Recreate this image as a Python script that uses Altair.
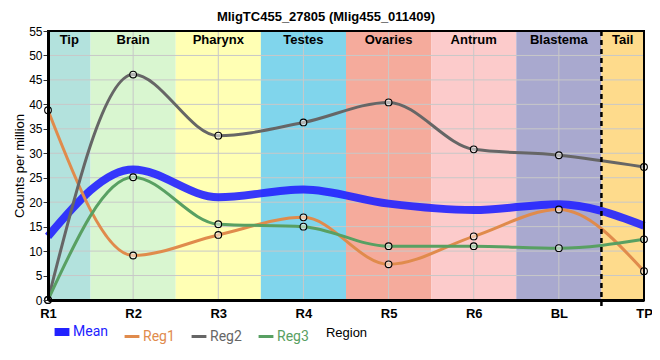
import altair as alt
import pandas as pd

# ---- data ----
regions = ["R1", "R2", "R3", "R4", "R5", "R6", "BL", "TP"]
mean_vals = [13.0, 26.7, 21.0, 22.6, 19.7, 18.4, 19.6, 15.2]
reg1_vals = [38.8, 9.1, 13.3, 16.9, 7.3, 13.0, 18.5, 5.9]
reg2_vals = [0.0, 46.1, 33.6, 36.3, 40.4, 30.8, 29.6, 27.2]
reg3_vals = [0.0, 25.1, 15.5, 15.0, 11.0, 11.0, 10.6, 12.4]

series_names = ["Mean", "Reg1", "Reg2", "Reg3"]
series_colors = ["#2222ff", "#e08b4c", "#666666", "#58a062"]

band_names = ["Tip", "Brain", "Pharynx", "Testes", "Ovaries", "Antrum", "Blastema", "Tail"]
band_start = [0, 0.5, 1.5, 2.5, 3.5, 4.5, 5.5, 6.5]
band_end = [0.5, 1.5, 2.5, 3.5, 4.5, 5.5, 6.5, 7]
band_colors = ["#b3e2dd", "#d9f6d0", "#ffffb4", "#80d5ec", "#f5ab9c", "#fccbcb", "#a9a9cf", "#fedb8c"]

y_ticks = list(range(0, 56, 5))
tail_boundary = [6.5]

W, H = 596, 269

# ---- tables ----
rows = []
for name, vals in zip(series_names, [mean_vals, reg1_vals, reg2_vals, reg3_vals]):
    for i, v in enumerate(vals):
        rows.append({"x": i, "region": regions[i], "series": name, "value": v})
df = pd.DataFrame(rows)
df_mean = df[df.series == "Mean"]
df_regs = df[df.series != "Mean"]

bands = pd.DataFrame({
    "name": band_names, "start": band_start, "end": band_end,
    "mid": [(a + b) / 2 for a, b in zip(band_start, band_end)],
})
xgrid = pd.DataFrame({"x": list(range(len(regions)))})
ygrid = pd.DataFrame({"y": y_ticks})
vline = pd.DataFrame({"x": tail_boundary})

label_expr = "[" + ",".join(f"'{r}'" for r in regions) + "][datum.value]"

xscale = alt.Scale(domain=[0, len(regions) - 1], nice=False, zero=False)
yscale = alt.Scale(domain=[0, 55], nice=False)

x_axis = alt.Axis(values=list(range(len(regions))), labelExpr=label_expr, title="Region",
                  grid=False, ticks=False, domainColor="black", domainWidth=3,
                  labelFont="Liberation Sans", labelFontSize=13, labelFontWeight="bold",
                  labelColor="black", labelPadding=7, labelFlush=False, labelOverlap=False,
                  titleFont="Liberation Sans", titleFontSize=13, titleFontWeight="normal",
                  titleColor="black", titlePadding=6, zindex=1)
y_axis = alt.Axis(values=y_ticks, title="Counts per million", grid=False,
                  domainColor="black", domainWidth=3, tickColor="#333333", tickSize=5,
                  labelFont="Liberation Sans", labelFontSize=12, labelColor="black",
                  labelPadding=1, labelOverlap=False,
                  titleFont="Liberation Sans", titleFontSize=13, titleFontWeight="normal",
                  titleColor="black", titlePadding=2, zindex=1)


def X(field):
    return alt.X(field, scale=xscale, axis=x_axis)


def Y(field):
    return alt.Y(field, scale=yscale, axis=y_axis)


band_layer = alt.Chart(bands).mark_rect().encode(
    x=X("start:Q"),
    x2="end:Q",
    y=alt.value(0), y2=alt.value(H),
    fill=alt.Fill("name:N", scale=alt.Scale(domain=band_names, range=band_colors), legend=None),
)

band_text = alt.Chart(bands).mark_text(font="Liberation Sans", fontSize=13, fontWeight="bold",
                                       color="black", baseline="middle").encode(
    x=X("mid:Q"),
    y=alt.value(9),
    text="name:N",
)

xgrid_layer = alt.Chart(xgrid).mark_rule(color="#c8c8c8", strokeWidth=1).encode(
    x=X("x:Q"), y=alt.value(0), y2=alt.value(H))
ygrid_layer = alt.Chart(ygrid).mark_rule(color="#c8c8c8", strokeWidth=1).encode(
    y=Y("y:Q"), x=alt.value(0), x2=alt.value(W))

color_enc = alt.Color("series:N", scale=alt.Scale(domain=series_names, range=series_colors),
                      legend=alt.Legend(
                          title=None, orient="none", direction="horizontal",
                          legendX=7, legendY=294, columns=4, columnPadding=10,
                          symbolType="stroke", symbolSize=220, labelOffset=4,
                          labelFont="Roboto", labelFontSize=14, padding=0,
                          labelColor={"expr": "scale('color', datum.value)"},
                          symbolStrokeWidth={"expr": "datum.value == 'Mean' ? 8 : 3"},
                          symbolOpacity=1,
                      ))

mean_line = alt.Chart(df_mean).mark_line(interpolate="monotone", strokeWidth=8,
                                         strokeCap="butt", opacity=0.9).encode(
    x=X("x:Q"),
    y=Y("value:Q"),
    color=color_enc,
)

reg_lines = alt.Chart(df_regs).mark_line(interpolate="monotone", strokeWidth=3).encode(
    x=X("x:Q"),
    y=Y("value:Q"),
    color=color_enc,
    detail="series:N",
)

reg_points = alt.Chart(df_regs).mark_point(shape="circle", filled=True, fill="white",
                                           fillOpacity=0.5, stroke="black", strokeWidth=1.1,
                                           size=45, opacity=1).encode(
    x=X("x:Q"),
    y=Y("value:Q"),
)

dash_rule = alt.Chart(vline).mark_rule(color="black", strokeWidth=2.5, strokeDash=[5, 4]).encode(
    x=X("x:Q"), y=alt.value(0), y2=alt.value(H + 8))

frame = alt.Chart(vline).mark_rect(fillOpacity=0, stroke="black", strokeWidth=2).encode(
    x=alt.value(0), x2=alt.value(W), y=alt.value(0), y2=alt.value(H))

chart = alt.layer(
    band_layer, xgrid_layer, ygrid_layer, band_text, mean_line, reg_lines, reg_points,
    dash_rule, frame,
).resolve_scale(fill="independent").properties(
    width=W, height=H,
    title=alt.TitleParams("MligTC455_27805 (Mlig455_011409)", font="Liberation Sans",
                          fontSize=13, fontWeight="bold", color="black", anchor="middle",
                          dx=-20, offset=1),
    autosize=alt.AutoSizeParams(type="none"),
    padding={"left": 40, "top": 23, "right": 8, "bottom": 50},
).configure_view(stroke=None).configure(background="white")

chart.save("out.html", embed_options={"renderer": "svg", "actions": False})
